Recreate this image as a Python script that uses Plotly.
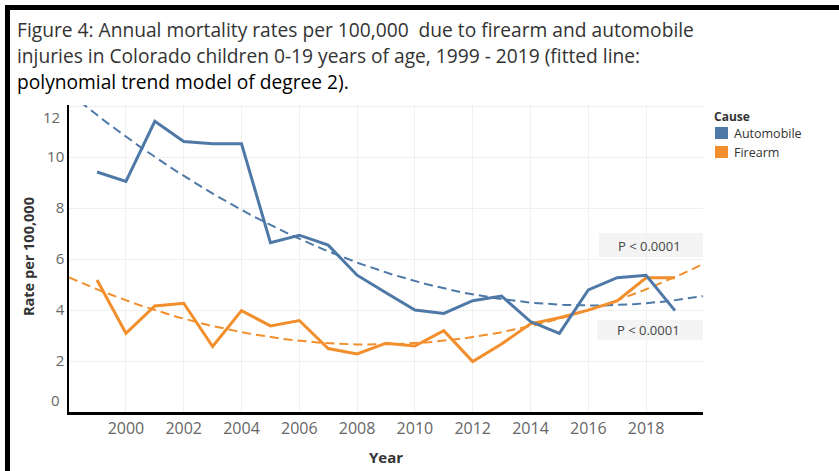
import numpy as np
import plotly.graph_objects as go

years = list(range(1999, 2020))
automobile = [9.42, 9.05, 11.41, 10.62, 10.53, 10.53, 6.65, 6.94, 6.55, 5.37, 4.68,
              4.00, 3.87, 4.37, 4.55, 3.55, 3.09, 4.79, 5.27, 5.37, 3.98]
firearm = [5.18, 3.09, 4.16, 4.27, 2.57, 3.98, 3.38, 3.59, 2.49, 2.28, 2.70,
           2.59, 3.19, 1.98, 2.67, 3.46, 3.70, 4.00, 4.36, 5.27, 5.27]
causes = ["Automobile", "Firearm"]
p_labels = ["P < 0.0001", "P < 0.0001"]
x_ticks = list(range(2000, 2019, 2))
y_ticks = list(range(0, 13, 2))

BLUE = "#4e79a7"
ORANGE = "#f28e2b"
FONT = "Open Sans"

W, H = 839, 471
ML, MR, MT, MB = 69, 136, 105, 59
PW, PH = W - ML - MR, H - MT - MB
Y_RANGE = [0, 12.05]


def px(x):
    return (x - ML) / PW


def py(y):
    return (H - MB - y) / PH


x_range = [1998.03, 2019.97]
xs = np.linspace(x_range[0], x_range[1], 200)
fit_a = np.polyval(np.polyfit(years, automobile, 2), xs)
fit_f = np.polyval(np.polyfit(years, firearm, 2), xs)

fig = go.Figure()
fig.add_trace(go.Scatter(x=xs, y=fit_a, mode="lines", showlegend=False, hoverinfo="skip",
                         line=dict(color=BLUE, width=2, dash="9px,5px")))
fig.add_trace(go.Scatter(x=xs, y=fit_f, mode="lines", showlegend=False, hoverinfo="skip",
                         line=dict(color=ORANGE, width=2, dash="9px,5px")))
fig.add_trace(go.Scatter(x=years, y=firearm, mode="lines", name=causes[1], showlegend=False,
                         line=dict(color=ORANGE, width=3)))
fig.add_trace(go.Scatter(x=years, y=automobile, mode="lines", name=causes[0], showlegend=False,
                         line=dict(color=BLUE, width=3)))

shapes = [
    # p-value boxes
    dict(type="rect", xref="paper", yref="paper", x0=px(599), x1=px(703), y0=py(257), y1=py(233),
         fillcolor="#f4f4f4", line=dict(width=0), layer="below"),
    dict(type="rect", xref="paper", yref="paper", x0=px(597), x1=px(703), y0=py(340), y1=py(320),
         fillcolor="#f4f4f4", line=dict(width=0), layer="below"),
    # frame
    dict(type="rect", xref="paper", yref="paper", x0=px(5), x1=px(10), y0=py(471), y1=py(5),
         fillcolor="black", line=dict(width=0)),
    dict(type="rect", xref="paper", yref="paper", x0=px(5), x1=px(839), y0=py(10), y1=py(5),
         fillcolor="black", line=dict(width=0)),
    # legend swatches
    dict(type="rect", xref="paper", yref="paper", x0=px(715), x1=px(728), y0=py(139), y1=py(127),
         fillcolor=BLUE, line=dict(width=0)),
    dict(type="rect", xref="paper", yref="paper", x0=px(715), x1=px(728), y0=py(158), y1=py(146),
         fillcolor=ORANGE, line=dict(width=0)),
]

title_lines = [
    ("Figure 4: Annual mortality rates per 100,000  due to firearm and automobile", "#333333", 30),
    ("injuries in Colorado children 0-19 years of age, 1999 - 2019 (fitted line:", "#333333", 56),
    ("polynomial trend model of degree 2).", "#000000", 82),
]
annotations = []
for text, col, yy in title_lines:
    annotations.append(dict(text=text.replace("  ", "&nbsp; "), xref="paper", yref="paper",
                            x=px(15), y=py(yy), xanchor="left", yanchor="middle",
                            showarrow=False, font=dict(family=FONT, size=19.2, color=col)))
annotations.append(dict(text=p_labels[0], xref="paper", yref="paper", x=px(649), y=py(246),
                        xanchor="center", yanchor="middle", showarrow=False,
                        font=dict(family=FONT, size=13, color="#444444")))
annotations.append(dict(text=p_labels[1], xref="paper", yref="paper", x=px(648), y=py(330),
                        xanchor="center", yanchor="middle", showarrow=False,
                        font=dict(family=FONT, size=13, color="#444444")))
# legend text
annotations.append(dict(text="<b>Cause</b>", xref="paper", yref="paper", x=px(712), y=py(116),
                        xanchor="left", yanchor="middle", showarrow=False,
                        font=dict(family=FONT, size=12, color="#333333")))
for name, yy in zip(causes, [133, 152]):
    annotations.append(dict(text=name, xref="paper", yref="paper", x=px(732), y=py(yy),
                            xanchor="left", yanchor="middle", showarrow=False,
                            font=dict(family=FONT, size=12.5, color="#333333")))
# end y tick labels kept inside the axis (Tableau style)
annotations.append(dict(text=str(y_ticks[-1]), xref="paper", yref="y", x=px(62), y=Y_RANGE[1],
                        xanchor="right", yanchor="top", showarrow=False,
                        font=dict(family=FONT, size=15, color="#666666")))
annotations.append(dict(text=str(y_ticks[0]), xref="paper", yref="y", x=px(62), y=Y_RANGE[0],
                        xanchor="right", yanchor="bottom", showarrow=False,
                        font=dict(family=FONT, size=15, color="#666666")))
# axis titles
annotations.append(dict(text="<b>Rate per 100,000</b>", xref="paper", yref="paper", x=px(28), y=py(257),
                        xanchor="center", yanchor="middle", textangle=-90, showarrow=False,
                        font=dict(family=FONT, size=14.5, color="#333333")))
annotations.append(dict(text="<b>Year</b>", xref="paper", yref="paper", x=px(386), y=py(457),
                        xanchor="center", yanchor="middle", showarrow=False,
                        font=dict(family=FONT, size=15, color="#333333")))

mid_ticks = y_ticks[1:-1]

fig.update_layout(
    width=W, height=H,
    margin=dict(l=ML, r=MR, t=MT, b=MB),
    plot_bgcolor="white", paper_bgcolor="white",
    font=dict(family=FONT),
    shapes=shapes,
    annotations=annotations,
    showlegend=False,
    xaxis=dict(range=x_range, tickvals=x_ticks, ticktext=[str(t) for t in x_ticks],
               showgrid=True, gridcolor="#f0f0f0", gridwidth=1, zeroline=False,
               showline=True, linecolor="black", linewidth=2.5, ticks="",
               tickfont=dict(family=FONT, size=16, color="#666666")),
    yaxis=dict(range=Y_RANGE, tickvals=y_ticks, ticktext=["" if t not in mid_ticks else str(t) for t in y_ticks],
               showgrid=True, gridcolor="#f0f0f0", gridwidth=1, zeroline=False,
               showline=True, linecolor="black", linewidth=1.5, ticks="",
               tickfont=dict(family=FONT, size=15, color="#666666")),
)

fig.write_html("out.html", config={"displayModeBar": False},
               post_script="document.body.style.margin='0';document.body.style.padding='0';")
